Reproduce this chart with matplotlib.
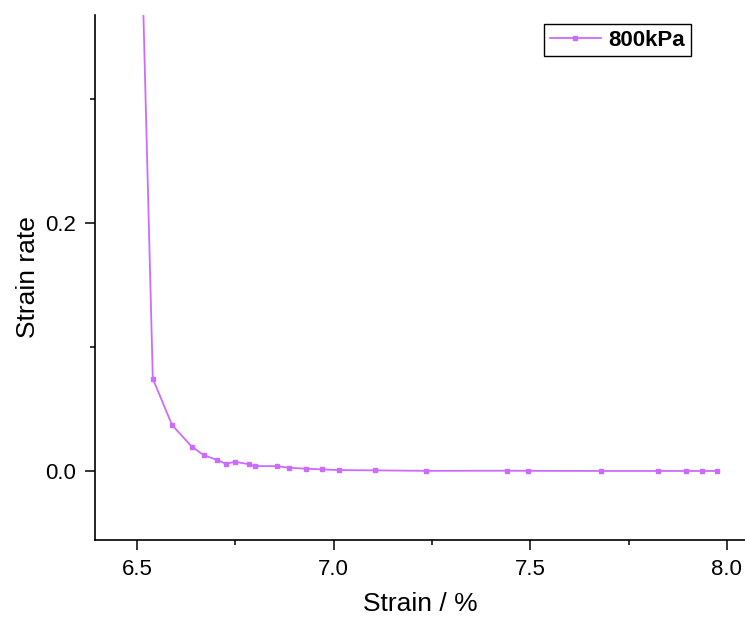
import matplotlib
matplotlib.use("Agg")
import matplotlib.pyplot as plt
from matplotlib.ticker import MultipleLocator

plt.rcParams['font.family'] = ['Liberation Sans', 'DejaVu Sans']

# strain (%) and strain rate
strain = [6.516, 6.540, 6.589, 6.639, 6.669, 6.704, 6.726, 6.749, 6.785, 6.799,
          6.855, 6.886, 6.930, 6.970, 7.014, 7.105, 7.235, 7.440, 7.495, 7.681,
          7.824, 7.895, 7.936, 7.974]
strain_rate = [0.370, 0.0746, 0.0371, 0.0198, 0.0129, 0.0089, 0.0059, 0.0075, 0.0055, 0.0040,
               0.0040, 0.0027, 0.0019, 0.0014, 0.0008, 0.0006, 0.0002, 0.0003, 0.0002, 0.0001,
               0.0001, 0.0001, 0.0001, 0.0001]
label = "800kPa"
color = '#CC6BFF'

fig = plt.figure(figsize=(7.45, 6.19), dpi=100)
ax = fig.add_axes([95/745, 79/619, 650/745, 525/619])

# markers only where visible in the reference (not on the steep first point)
ax.plot(strain, strain_rate, color=color, lw=1.3, marker='s', ms=3.2,
        markevery=list(range(1, len(strain))), label=label)

ax.set_xlim(6.393, 8.046)
ax.set_ylim(-0.0556, 0.368)

ax.xaxis.set_major_locator(MultipleLocator(0.5))
ax.xaxis.set_minor_locator(MultipleLocator(0.25))
ax.yaxis.set_major_locator(MultipleLocator(0.2))
ax.yaxis.set_minor_locator(MultipleLocator(0.1))
ax.xaxis.set_major_formatter(plt.FormatStrFormatter('%.1f'))
ax.yaxis.set_major_formatter(plt.FormatStrFormatter('%.1f'))

ax.tick_params(which='major', direction='out', length=7.5, width=1.1, labelsize=16)
ax.tick_params(axis='x', which='major', pad=6)
ax.tick_params(axis='y', which='major', pad=6)
ax.tick_params(which='minor', direction='out', length=3.5, width=1.1)

ax.spines['top'].set_visible(False)
ax.spines['right'].set_visible(False)
ax.spines['left'].set_linewidth(1.2)
ax.spines['bottom'].set_linewidth(1.2)

ax.set_xlabel("Strain / %", fontsize=19, labelpad=9)
ax.set_ylabel("Strain rate", fontsize=19, labelpad=4)

leg = fig.legend(loc='upper left', bbox_to_anchor=(544/745, 1 - 24/619),
                 borderaxespad=0, fancybox=False, edgecolor='black', framealpha=1,
                 prop={'weight': 'bold', 'size': 16}, handlelength=2.3,
                 borderpad=0.25, handletextpad=0.35)
leg.get_frame().set_linewidth(1.0)

fig.savefig("out.png", dpi=100)
